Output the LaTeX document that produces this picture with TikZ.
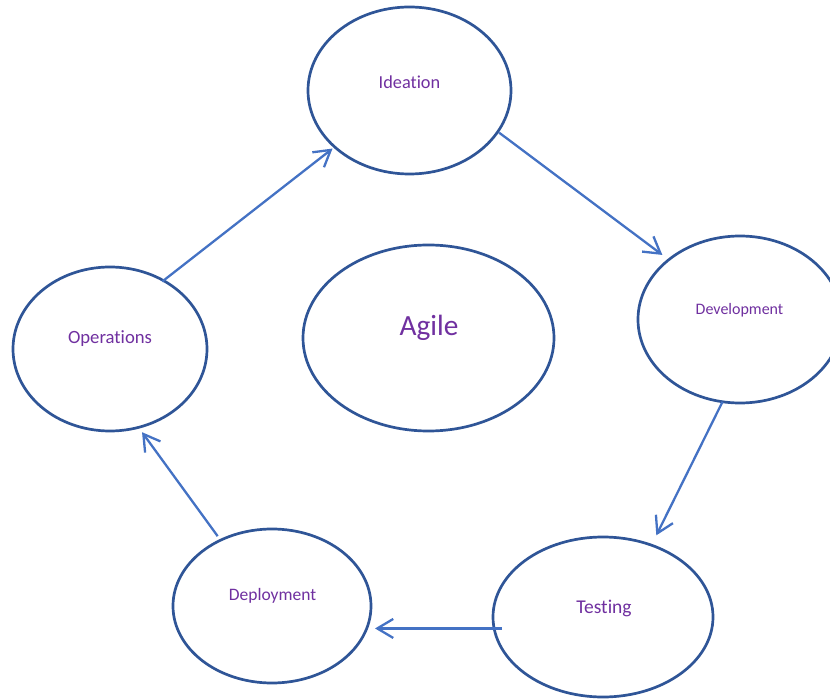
\documentclass[tikz,border=0pt]{standalone}
\usepackage{fontspec}
\setmainfont{Carlito}[Ligatures=NoCommon]
\usetikzlibrary{arrows.meta,shapes.geometric}
\definecolor{ellblue}{RGB}{47,85,151}
\definecolor{arrblue}{RGB}{68,114,196}
\definecolor{txtpurple}{RGB}{112,48,160}
\tikzset{
  ell/.style={draw=ellblue, line width=2.7pt, ellipse, inner sep=0pt, outer sep=0pt, fill=white},
  lbl/.style={text=txtpurple, inner sep=0pt},
  conn/.style={draw=arrblue, line width=2.3pt, -{Straight Barb[length=16pt,width=19pt,line width=2.3pt]}},
}
\begin{document}
\begin{tikzpicture}[x=1pt,y=-1pt]
\useasboundingbox (0,0) rectangle (830,700);
\node[ell, minimum width=203pt, minimum height=167pt] (ide) at (409.5,90.5) {};
\node[ell, minimum width=204pt, minimum height=167pt] (dev) at (740,319.5) {};
\node[ell, minimum width=220pt, minimum height=160pt] (test) at (603,617) {};
\node[ell, minimum width=198pt, minimum height=154pt] (dep) at (272,606) {};
\node[ell, minimum width=194pt, minimum height=164pt] (ops) at (110,349) {};
\node[ell, minimum width=251pt, minimum height=186pt] (agile) at (428.5,338) {};
\node[lbl, font=\fontsize{18.3}{20}\selectfont] (ideT) at (409.5,82) {Ideation};
\node[lbl, font=\fontsize{16}{18}\selectfont] (devT) at (739.5,310) {Development};
\node[lbl, font=\fontsize{19.5}{21}\selectfont] (testT) at (604,608.5) {Testing};
\node[lbl, font=\fontsize{17.5}{19}\selectfont] (depT) at (272.5,596) {Deployment};
\node[lbl, font=\fontsize{18.7}{20}\selectfont] (opsT) at (110,339) {Operations};
\node[lbl, font=\fontsize{29.3}{32}\selectfont] (agileT) at (429,328) {Agile};
\draw[conn, shorten <=-1.5pt, shorten >=2.7pt] (ops.52) -- (ide.217);
\draw[conn, shorten <=1.7pt, shorten >=8pt] (ide.335) -- (dev.140);
\draw[conn, shorten >=11pt] (dev.258) -- (test.56);
\draw[conn, shorten <=-8pt, shorten >=4pt] (test.186) -- (test.186 -| dep.east);
\draw[conn, shorten <=5pt, shorten >=6pt] (dep.128) -- (ops.290);
\end{tikzpicture}
\end{document}
